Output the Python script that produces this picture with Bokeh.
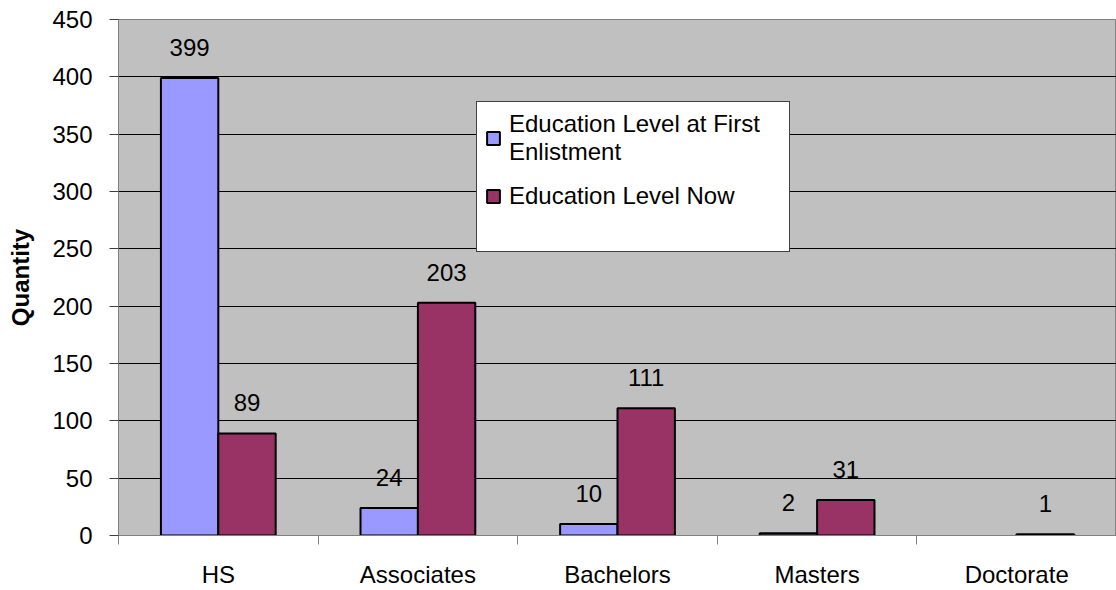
import numpy as np
from bokeh.plotting import figure
from bokeh.models import ColumnDataSource, Range1d, FixedTicker, Legend, LegendItem
from bokeh.core.properties import value
from bokeh.transform import dodge
from bokeh.embed import file_html
from bokeh.resources import INLINE

categories = ["HS", "Associates", "Bachelors", "Masters", "Doctorate"]
first_enlistment = [399, 24, 10, 2, None]
now = [89, 203, 111, 31, 1]
series_names = ["Education Level at First\nEnlistment", "Education Level Now"]
y_ticks = [0, 50, 100, 150, 200, 250, 300, 350, 400, 450]
y_title = "Quantity"

FONT = "Liberation Sans"
FS = "24px"
BAR_W = 0.2875
OFF = 0.14375

xs = [i + 0.5 for i in range(len(categories))]
first_vals = [np.nan if v is None else v for v in first_enlistment]
src = ColumnDataSource(dict(x=xs, first=first_vals, now=now,
                            first_lbl=["" if v is None else str(v) for v in first_enlistment],
                            now_lbl=[str(v) for v in now]))

p = figure(width=1116, height=590, x_range=Range1d(0, len(categories)),
           y_range=Range1d(y_ticks[0], y_ticks[-1]),
           output_backend="svg", toolbar_location=None, tools="")
p.min_border_left = 118
p.min_border_right = 0
p.min_border_top = 19
p.min_border_bottom = 55
p.background_fill_color = "#C0C0C0"
p.border_fill_color = "white"
p.outline_line_color = "#808080"
p.outline_line_width = 1

r1 = p.vbar(x=dodge("x", -OFF), top="first", width=BAR_W, source=src,
            fill_color="#9999FF", line_color="black", line_width=2)
r2 = p.vbar(x=dodge("x", OFF), top="now", width=BAR_W, source=src,
            fill_color="#993366", line_color="black", line_width=2)

for col, lbl, off in (("first", "first_lbl", -OFF), ("now", "now_lbl", OFF)):
    p.text(x=dodge("x", off), y=col, text=lbl, source=src,
           text_font=value(FONT), text_font_size=FS, text_color="black",
           text_align="center", text_baseline="bottom", y_offset=-22)

# axes
p.xgrid.visible = False
p.ygrid.grid_line_color = "black"
p.ygrid.grid_line_width = 1
p.yaxis.ticker = FixedTicker(ticks=y_ticks)
p.yaxis.axis_line_color = "#808080"
p.yaxis.major_tick_line_color = "#404040"
p.yaxis.major_tick_out = 9
p.yaxis.major_tick_in = 0
p.yaxis.minor_tick_line_color = None
p.yaxis.major_label_text_font = FONT
p.yaxis.major_label_text_font_size = FS
p.yaxis.major_label_text_color = "black"
p.yaxis.major_label_standoff = 17
p.yaxis.axis_label = y_title
p.yaxis.axis_label_text_font = FONT
p.yaxis.axis_label_text_font_style = "bold"
p.yaxis.axis_label_text_font_size = FS
p.yaxis.axis_label_text_color = "black"
p.yaxis.axis_label_standoff = 15

p.xaxis.ticker = FixedTicker(ticks=xs, minor_ticks=list(range(len(categories) + 1)))
p.xaxis.major_label_overrides = {x: c for x, c in zip(xs, categories)}
p.xaxis.axis_line_color = "#808080"
p.xaxis.major_tick_line_color = None
p.xaxis.major_tick_out = 0
p.xaxis.major_tick_in = 0
p.xaxis.minor_tick_line_color = "#808080"
p.xaxis.minor_tick_out = 9
p.xaxis.minor_tick_in = 0
p.xaxis.major_label_text_font = FONT
p.xaxis.major_label_text_font_size = FS
p.xaxis.major_label_text_color = "black"
p.xaxis.major_label_standoff = 16

legend = Legend(items=[LegendItem(label=series_names[0], renderers=[r1]),
                       LegendItem(label=series_names[1], renderers=[r2])],
                location=(358, 283))
legend.label_text_font = FONT
legend.label_text_font_size = FS
legend.label_text_color = "black"
legend.label_text_line_height = 1.25
legend.label_standoff = 8
legend.glyph_width = 16
legend.glyph_height = 16
legend.label_width = 272
legend.padding = 8
legend.spacing = 16
legend.margin = 0
legend.title = " "
legend.title_location = "below"
legend.title_text_font_size = "20px"
legend.title_standoff = 10
legend.border_line_color = "#404040"
legend.border_line_alpha = 1
legend.border_line_width = 1
legend.background_fill_color = "white"
legend.background_fill_alpha = 1
p.add_layout(legend, "center")

open("out.html", "w").write(file_html(p, INLINE))
